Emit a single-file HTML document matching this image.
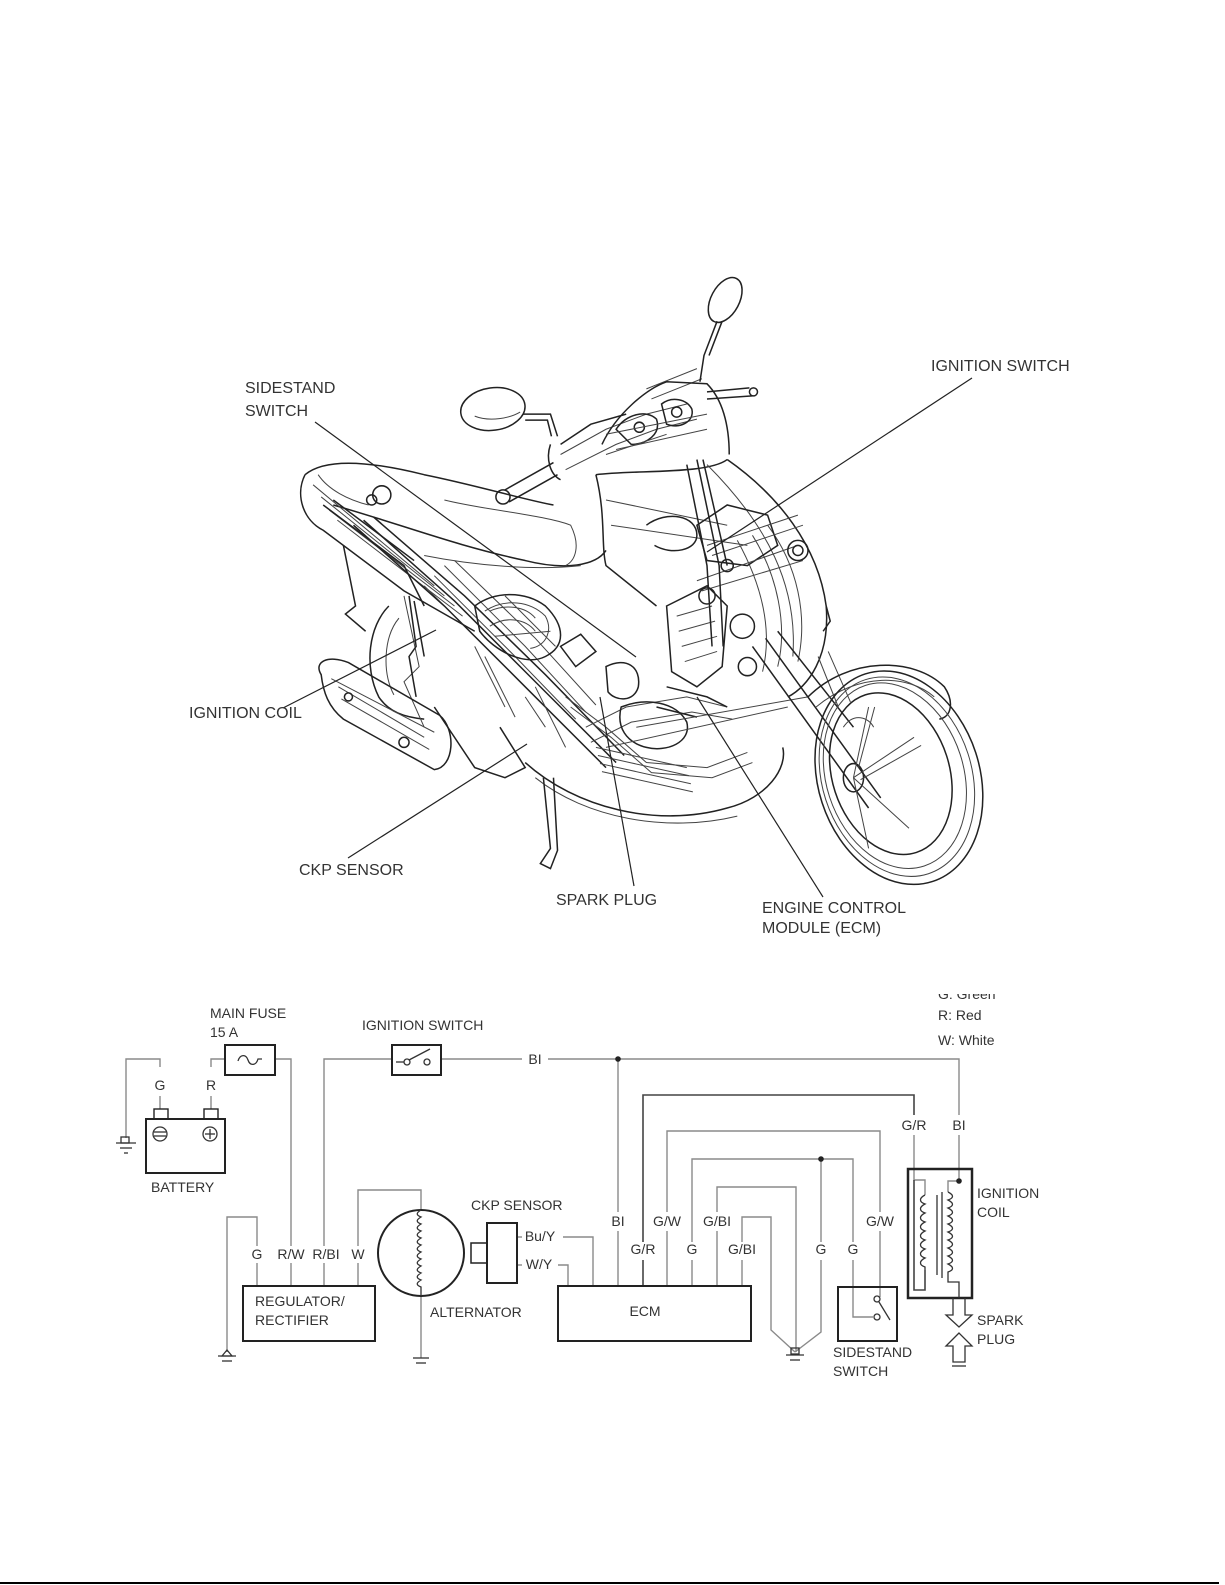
<!DOCTYPE html>
<html><head><meta charset="utf-8"><style>
html,body{margin:0;padding:0;background:#fff;}
svg{display:block}
text{font-family:"Liberation Sans",Arial,sans-serif;fill:#333}
.lb{font-size:16px}
.wl{font-size:14px}
.m path,.m ellipse,.m line,.m circle,.m polyline{fill:none;stroke:#222;stroke-width:1.5}
.t{stroke-width:1!important;stroke:#444!important}
.w{fill:none;stroke:#8a8a8a;stroke-width:1.4}
.wd{fill:none;stroke:#444;stroke-width:1.6}
.bx{fill:none;stroke:#222;stroke-width:2}
</style></head><body>
<svg width="1225" height="1585" viewBox="0 0 1225 1585" xmlns="http://www.w3.org/2000/svg">
<rect width="1225" height="1585" fill="#fff"/>

<g transform="scale(1.01)" class="m">
 <!-- left mirror -->
 <ellipse cx="488" cy="405" rx="32" ry="21" transform="rotate(-8 488 405)"/>
 <path d="M470,412 C485,418 505,414 515,408" class="t"/>
 <path d="M518,410 L545,410 L552,432"/>
 <path d="M520,416 L542,416 L546,432"/>
 <path d="M500,485 L548,458 M504,497 L552,470"/>
 <circle cx="498" cy="492" r="7"/>
 <path d="M545,440 C540,455 545,470 555,475 M555,440 L585,420 L620,410"/>
 <!-- handlebar cluster -->
 <path d="M555,450 L600,425 L640,410 L680,400 M560,465 L610,440 L650,425 L690,415" class="t"/>
 <path d="M610,425 C620,410 640,405 650,415 C655,430 640,440 625,440 Z"/>
 <path d="M655,400 C665,392 680,395 685,405 C688,418 672,425 660,420 Z"/>
 <path d="M640,385 L690,365 M645,395 L695,375 M600,450 L660,430" class="t"/>
 <circle cx="633" cy="423" r="5"/><circle cx="670" cy="408" r="5"/>
 <!-- right mirror -->
 <ellipse cx="718" cy="297" rx="14" ry="24" transform="rotate(28 718 297)"/>
 <path d="M710,318 L697,352 L693,378 M715,318 L702,352"/>
 <path d="M700,388 L742,384 M700,395 L745,392"/>
 <circle cx="746" cy="388" r="4"/>
 <!-- headlight / upper cowl -->
 <path d="M596,440 C610,410 640,385 660,378 L700,380 C715,395 722,420 722,450"/>
 <path d="M600,430 L650,420 L700,410 M610,445 L700,425" class="t"/>
 <path d="M590,470 C630,465 700,470 720,455"/>
 <!-- front fairing -->
 <path d="M590,470 C600,510 595,540 600,560 L650,600"/>
 <path d="M720,455 C770,490 810,540 818,600 C822,650 800,680 780,690"/>
 <path d="M600,495 L720,520 M605,520 L740,540 M700,460 C760,520 790,580 785,650" class="t"/>
 <path d="M760,520 C790,560 800,610 790,655 M745,530 C770,570 780,620 770,660 M730,535 C755,580 765,625 755,665" class="t"/>
 <path d="M818,600 L822,615 L815,625"/>
 <!-- seat / body -->
 <path d="M302,470 C320,455 360,455 420,470 C470,480 520,495 548,500"/>
 <path d="M302,470 C292,490 300,515 320,525 L400,585 L470,625"/>
 <path d="M330,500 C400,520 450,540 520,555 C560,565 590,560 600,545"/>
 <path d="M440,495 C480,505 540,510 565,520 C575,540 570,555 560,560" class="t"/>
 <path d="M420,550 C470,560 530,565 575,560" class="t"/>
 <path d="M310,480 L430,580 M318,492 L440,590 M326,505 L450,600 M334,515 L458,610" class="t"/>
 <circle cx="378" cy="490" r="9"/><circle cx="368" cy="495" r="5"/>
 <path d="M315,470 C325,485 345,495 365,500" class="t"/>
 <path d="M320,500 L400,560 L420,600 M330,495 L410,555" />
 <!-- rear fender -->
 <path d="M340,540 L352,600 L342,608 L362,625"/>
 <!-- rear wheel -->
 <path d="M385,600 C365,620 360,660 375,690 C385,705 400,710 420,712"/>
 <path d="M395,612 C380,630 378,665 390,688" class="t"/>
 <path d="M400,590 L415,660 L400,675 L420,720" class="t"/>
 <path d="M405,590 L412,640 L405,650 L412,690 M410,595 L420,650" />
 <!-- exhaust -->
 <path d="M318,668 C310,655 325,648 345,656 L435,708 C452,722 450,760 430,762 L340,712 C325,700 320,685 318,668 Z"/>
 <path d="M335,680 L420,730 M338,692 L425,742 M328,672 L430,725" class="t"/>
 <circle cx="400" cy="735" r="5"/><circle cx="345" cy="690" r="4"/>
 <path d="M430,700 L470,760 L500,770 L520,760 L495,720"/>
 <!-- engine area lines -->
 <path d="M420,580 L500,660 L560,720 M430,570 L510,650 L570,712 M440,560 L520,640 L580,705 M450,555 L530,632 L590,698" class="t"/>
 <path d="M350,520 L440,600 L520,680 L600,760 M360,515 L450,595 L530,675 L610,755 M370,512 L460,590 L540,668 L618,748"/>
 <path d="M470,600 C490,585 520,585 540,600 C560,620 560,640 540,650 C520,660 490,645 475,625 Z"/>
 <path d="M480,605 C500,592 525,595 540,610 C548,625 540,640 525,642 M485,620 C500,610 520,612 530,625" class="t"/>
 <path d="M485,605 C500,598 520,600 530,612 M490,630 L545,625 M500,590 L550,640" class="t"/>
 <path d="M555,640 L575,628 L590,645 L570,660 Z"/>
 <path d="M600,660 C620,650 635,660 632,680 C628,695 610,695 602,685 Z"/>
 <path d="M580,720 L620,700 L680,690 L720,700 M585,735 L625,715 L685,705 L725,712" class="t"/>
 <path d="M615,700 C640,690 670,695 680,715 C685,735 660,745 640,740 C620,735 610,720 615,700 Z"/>
 <path d="M660,600 L700,580 L720,600 L715,660 L690,680 L665,665 Z"/>
 <path d="M670,610 L705,600 M672,625 L708,615 M675,640 L710,630 M678,655 L710,645" class="t"/>
 <path d="M690,520 L720,500 L760,510 L770,540 L740,560 L700,555 Z"/>
 <path d="M700,540 L790,510 M705,550 L795,520 M690,575 L790,540 M695,585 L795,555" class="t"/>
 <circle cx="790" cy="545" r="10"/><circle cx="790" cy="545" r="5"/><circle cx="735" cy="620" r="12"/><circle cx="700" cy="590" r="8"/>
 <circle cx="740" cy="660" r="9"/><circle cx="720" cy="560" r="6"/>
 <path d="M640,520 C660,505 690,510 690,530 C690,545 665,550 648,540"/>
 <path d="M680,460 L700,560 L705,640 M690,455 L712,560 L716,640 M696,455 L720,560"/>
 <path d="M560,690 L600,720 L640,755 L700,760 L740,745 M565,700 L605,730 L645,765 L705,770 L745,755" class="t"/>
 <path d="M590,740 L680,760 M592,748 L682,768 M594,756 L684,776 M596,764 L686,784" class="t"/>
 <path d="M470,640 L500,700 M480,650 L510,710 M520,690 L540,720 M530,680 L560,740" class="t"/>
 <path d="M660,680 L700,690 L720,700 M650,700 L690,710" />
 <!-- floor / lower cowl -->
 <path d="M520,755 C570,800 650,820 720,800 C760,790 780,760 775,740"/>
 <path d="M530,770 C580,810 660,825 730,808" class="t"/>
 <path d="M600,740 L780,700 M630,720 L800,690" class="t"/>
 <!-- sidestand -->
 <path d="M538,770 L545,840 L535,855 L545,860 L552,842 L548,770"/>
 <!-- fork -->
 <path d="M745,640 L860,800 M758,632 L872,790 M770,625 L845,720"/>
 <path d="M810,650 L830,700 M820,645 L842,695" class="t"/>
 <!-- front fender -->
 <path d="M800,690 C840,650 905,650 935,680 C945,695 942,710 930,712"/>
 <path d="M808,700 C850,665 900,668 925,690" class="t"/>
 <!-- front wheel -->
 <ellipse cx="890" cy="770" rx="80" ry="108" transform="rotate(-18 890 770)"/>
 <ellipse cx="888" cy="769" rx="74" ry="101" transform="rotate(-18 888 769)" class="t"/>
 <ellipse cx="886" cy="768" rx="68" ry="94" transform="rotate(-18 886 768)" class="t"/>
 <ellipse cx="882" cy="766" rx="58" ry="82" transform="rotate(-18 882 766)"/>
 <ellipse cx="845" cy="770" rx="10" ry="14"/>
 <path d="M845,770 L860,700 M845,770 L905,730 M845,770 L900,820 M845,770 L860,840 M852,772 L912,738 M850,760 L866,700" class="t"/>
 <path d="M835,720 C845,705 860,710 865,720" class="t"/>
</g>

<!-- leader lines -->
<g stroke="#222" stroke-width="1.2" fill="none">
 <line x1="315" y1="422" x2="636" y2="657"/>
 <line x1="972" y1="378" x2="707" y2="552"/>
 <line x1="283" y1="708" x2="436" y2="630"/>
 <line x1="348" y1="858" x2="527" y2="744"/>
 <line x1="634" y1="886" x2="600" y2="697"/>
 <line x1="823" y1="897" x2="697" y2="697"/>
</g>
<g class="lb">
 <text x="245" y="393">SIDESTAND</text>
 <text x="245" y="416">SWITCH</text>
 <text x="931" y="371">IGNITION SWITCH</text>
 <text x="189" y="718">IGNITION COIL</text>
 <text x="299" y="875">CKP SENSOR</text>
 <text x="556" y="905">SPARK PLUG</text>
 <text x="762" y="913">ENGINE CONTROL</text>
 <text x="762" y="933">MODULE (ECM)</text>
</g>

<!-- legend -->
<text class="wl" x="938" y="999">G: Green</text>
<rect x="900" y="970" width="140" height="24" fill="#fff"/>
<text class="wl" x="938" y="1020">R: Red</text>
<text class="wl" x="938" y="1045">W: White</text>

<g class="wl">
 <text x="210" y="1018">MAIN FUSE</text>
 <text x="210" y="1037">15 A</text>
 <text x="362" y="1030">IGNITION SWITCH</text>
 <text x="151" y="1192">BATTERY</text>
 <text x="471" y="1210">CKP SENSOR</text>
 <text x="255" y="1306">REGULATOR/</text>
 <text x="255" y="1325">RECTIFIER</text>
 <text x="430" y="1317">ALTERNATOR</text>
 <text x="645" y="1316" text-anchor="middle">ECM</text>
 <text x="833" y="1357">SIDESTAND</text>
 <text x="833" y="1376">SWITCH</text>
 <text x="977" y="1198">IGNITION</text>
 <text x="977" y="1217">COIL</text>
 <text x="977" y="1325">SPARK</text>
 <text x="977" y="1344">PLUG</text>
</g>
<g class="wl" text-anchor="middle">
 <text x="160" y="1090">G</text><text x="211" y="1090">R</text>
 <text x="535" y="1064">BI</text>
 <text x="257" y="1259">G</text><text x="291" y="1259">R/W</text><text x="326" y="1259">R/BI</text><text x="358" y="1259">W</text>
 <text x="540" y="1241">Bu/Y</text><text x="539" y="1269">W/Y</text>
 <text x="618" y="1226">BI</text><text x="643" y="1254">G/R</text><text x="667" y="1226">G/W</text>
 <text x="692" y="1254">G</text><text x="717" y="1226">G/BI</text><text x="742" y="1254">G/BI</text>
 <text x="821" y="1254">G</text><text x="853" y="1254">G</text><text x="880" y="1226">G/W</text>
 <text x="914" y="1130">G/R</text><text x="959" y="1130">BI</text>
</g>

<g class="w">
 <polyline points="160,1067 160,1059 126,1059 126,1138"/>
 <line x1="160" y1="1096" x2="160" y2="1109"/>
 <polyline points="211,1067 211,1059 225,1059"/>
 <line x1="211" y1="1096" x2="211" y2="1109"/>
 <polyline points="275,1059 291,1059 291,1246"/><line x1="291" y1="1263" x2="291" y2="1286"/>
 <polyline points="392,1059 324,1059 324,1246"/><line x1="324" y1="1263" x2="324" y2="1286"/>
 <line x1="441" y1="1059" x2="522" y2="1059"/>
 <polyline points="548,1059 959,1059 959,1115"/><line x1="959" y1="1135" x2="959" y2="1181"/>
 <line x1="618" y1="1059" x2="618" y2="1212"/><line x1="618" y1="1231" x2="618" y2="1286"/>
 <polyline points="257,1246 257,1217 227,1217 227,1352"/><line x1="257" y1="1263" x2="257" y2="1286"/>
 <polyline points="358,1246 358,1190 421,1190 421,1210"/><line x1="358" y1="1263" x2="358" y2="1286"/>
 <line x1="421" y1="1296" x2="421" y2="1358"/>
 <polyline points="563,1237 593,1237 593,1286"/>
 <polyline points="558,1265 568,1265 568,1286"/>
 <line x1="517" y1="1237" x2="522" y2="1237"/><line x1="517" y1="1265" x2="522" y2="1265"/>
 <polyline points="667,1212 667,1131 880,1131 880,1212"/><line x1="667" y1="1231" x2="667" y2="1286"/>
 <polyline points="880,1231 880,1297"/>
 <polyline points="692,1242 692,1159 853,1159 853,1242"/><line x1="692" y1="1260" x2="692" y2="1286"/>
 <polyline points="853,1260 853,1317 873,1317"/>
 <polyline points="821,1159 821,1242"/><polyline points="821,1260 821,1332 795,1352"/>
 <polyline points="717,1212 717,1187 796,1187 796,1352"/><line x1="717" y1="1231" x2="717" y2="1286"/>
 <polyline points="742,1242 742,1217 771,1217 771,1330 795,1352"/><line x1="742" y1="1260" x2="742" y2="1286"/>
 <polyline points="914,1135 914,1180 925,1180 925,1195" />
 <polyline points="959,1181 948,1181 948,1192"/>
</g>
<g class="wd">
 <polyline points="643,1242 643,1095 914,1095 914,1115"/><line x1="643" y1="1260" x2="643" y2="1286"/>
 <polyline points="914,1180 914,1290 925,1290 925,1270"/>
</g>
<circle cx="618" cy="1059" r="2.8" fill="#222"/>
<circle cx="821" cy="1159" r="2.8" fill="#222"/>
<circle cx="959" cy="1181" r="2.8" fill="#222"/>

<g class="bx">
 <rect x="146" y="1119" width="79" height="54"/>
 <rect x="154" y="1109" width="14" height="10" stroke-width="1.4"/>
 <rect x="204" y="1109" width="14" height="10" stroke-width="1.4"/>
 <rect x="225" y="1045" width="50" height="30"/>
 <rect x="392" y="1045" width="49" height="30"/>
 <rect x="243" y="1286" width="132" height="55"/>
 <circle cx="421" cy="1253" r="43"/>
 <rect x="487" y="1223" width="30" height="60"/>
 <rect x="471" y="1243" width="16" height="20" stroke-width="1.5"/>
 <rect x="558" y="1286" width="193" height="55"/>
 <rect x="838" y="1287" width="59" height="54"/>
 <rect x="908" y="1169" width="64" height="129" stroke-width="2.5"/>
</g>
<g fill="none" stroke="#333" stroke-width="1.3">
 <circle cx="160" cy="1134" r="7"/><line x1="154" y1="1132" x2="166" y2="1132"/><line x1="154" y1="1136" x2="166" y2="1136"/>
 <circle cx="210" cy="1134" r="7"/><line x1="205" y1="1134" x2="215" y2="1134"/><line x1="210" y1="1129" x2="210" y2="1139"/>
 <path d="M238,1061 C240,1054 246,1054 248,1060 C250,1066 256,1066 258,1059 L262,1059"/>
 <circle cx="407" cy="1062" r="3"/><circle cx="427" cy="1062" r="3"/>
 <line x1="409" y1="1060" x2="430" y2="1049"/>
 <line x1="396" y1="1062" x2="404" y2="1062"/>
 <circle cx="877" cy="1299" r="3"/><circle cx="877" cy="1317" r="3"/>
 <line x1="879" y1="1302" x2="890" y2="1320"/>
 <rect x="121" y="1137" width="8" height="6"/>
 <line x1="116" y1="1143" x2="136" y2="1143"/><line x1="120" y1="1148" x2="132" y2="1148"/><line x1="124" y1="1153" x2="128" y2="1153"/>
 <path d="M222,1356 L227,1350 L232,1356 Z"/><line x1="218" y1="1356" x2="236" y2="1356"/><line x1="222" y1="1361" x2="232" y2="1361"/>
 <line x1="413" y1="1358" x2="429" y2="1358"/><line x1="416" y1="1363" x2="426" y2="1363"/>
 <rect x="791" y="1348" width="8" height="6"/>
 <line x1="786" y1="1355" x2="804" y2="1355"/><line x1="790" y1="1360" x2="800" y2="1360"/>
 <line x1="952" y1="1366" x2="966" y2="1366"/>
 <path d="M925,1195 c-6,3 -6,7 0,9 c-6,3 -6,7 0,9 c-6,3 -6,7 0,9 c-6,3 -6,7 0,9 c-6,3 -6,7 0,9 c-6,3 -6,7 0,9 c-6,3 -6,7 0,9 c-6,3 -6,7 0,9 L925,1270"/>
 <line x1="937" y1="1195" x2="937" y2="1275"/><line x1="942" y1="1192" x2="942" y2="1278"/>
 <path d="M948,1192 c6,3 6,6 0,8 c6,3 6,6 0,8 c6,3 6,6 0,8 c6,3 6,6 0,8 c6,3 6,6 0,8 c6,3 6,6 0,8 c6,3 6,6 0,8 c6,3 6,6 0,8 c6,3 6,6 0,8 c6,3 6,6 0,8 L948,1282 L959,1282 L959,1298"/>
 <path d="M421,1210 c-5,3 -5,5 0,7 c-5,3 -5,5 0,7 c-5,3 -5,5 0,7 c-5,3 -5,5 0,7 c-5,3 -5,5 0,7 c-5,3 -5,5 0,7 c-5,3 -5,5 0,7 c-5,3 -5,5 0,7 c-5,3 -5,5 0,7 c-5,3 -5,5 0,7 c-5,3 -5,5 0,7 L421,1296"/>
 <path d="M953,1298 L953,1315 L946,1315 L959,1327 L972,1315 L965,1315 L965,1298"/>
 <path d="M959,1333 L946,1346 L953,1346 L953,1362 L965,1362 L965,1346 L972,1346 Z"/>
</g>

<line x1="0" y1="1583" x2="1219" y2="1583" stroke="#000" stroke-width="2"/>
</svg>
</body></html>
